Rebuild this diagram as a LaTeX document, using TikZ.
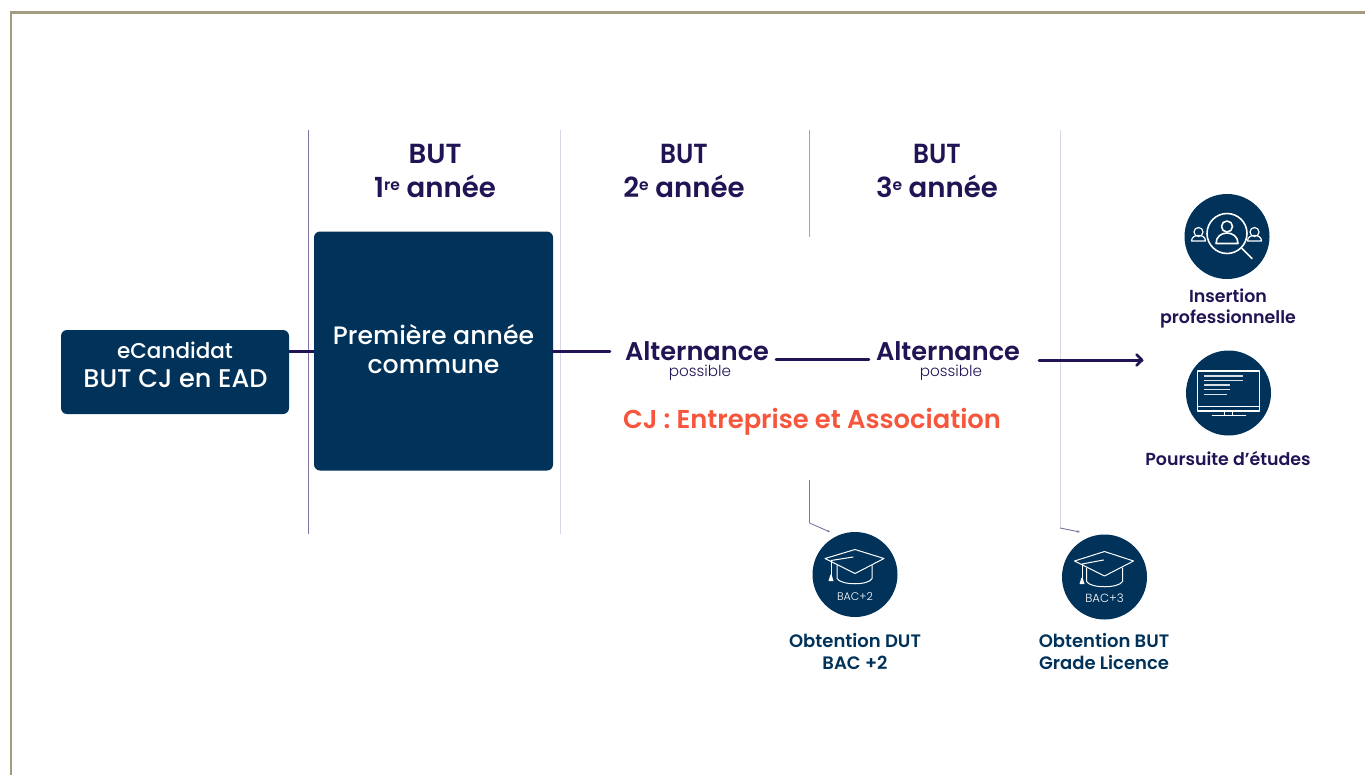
\documentclass[tikz,border=0pt]{standalone}
\usetikzlibrary{arrows.meta}
\usepackage{fontspec}
\setmainfont{Poppins}
\newfontfamily\pmed{Poppins Medium}
\newfontfamily\psemi{Poppins SemiBold}
\newfontfamily\plight{Poppins Light}
\definecolor{navy}{HTML}{00325A}
\definecolor{ink}{HTML}{221454}
\definecolor{coral}{HTML}{F7563C}
\definecolor{framec}{HTML}{A39C80}
\definecolor{rulea}{HTML}{7D76A0}
\definecolor{ruleb}{HTML}{D6D6E4}
\newcommand{\supr}[1]{\raisebox{7.5pt}{\fontsize{15.5}{15.5}\selectfont #1}}
\newcommand{\narrowbut}{\scalebox{0.9}[1]{BUT}}
\tikzset{x=1pt,y=-1pt,
 box/.style={fill=navy,rounded corners=6pt,inner sep=0pt},
 boxtxt/.style={text=white,align=center,inner sep=0pt},
 headtxt/.style={text=ink,align=center,font=\psemi\fontsize{27.6}{34}\selectfont,inner sep=0pt},
 altn/.style={text=ink,font=\psemi\fontsize{25.6}{28}\selectfont,inner sep=0pt},
 poss/.style={text=ink,font=\plight\fontsize{15.2}{16}\selectfont,inner sep=0pt},
 captxt/.style={text=ink,align=center,inner sep=0pt,font=\psemi\fontsize{17.4}{21.5}\selectfont},
 capnavy/.style={text=navy,align=center,inner sep=0pt,font=\psemi\fontsize{18}{22}\selectfont},
 disc/.style={circle,fill=navy,inner sep=0pt,minimum size=85pt},
 link/.style={draw=ink,line width=3pt},
 icon/.style={draw=white,line width=1pt,line cap=round,line join=round},
 iconb/.style={icon,line width=1.6pt},
 hair/.style={line width=1pt},
 pointer/.style={rulea,line width=0.9pt,-{Stealth[length=3pt,width=2.5pt]}}}
\begin{document}
\begin{tikzpicture}
\useasboundingbox (0,0) rectangle (1365,774);
\fill[white] (0,0) rectangle (1365,774);
\draw[framec,line width=2.5pt] (11,775) -- (11,12.5) -- (1365,12.5);
% column rules
\coordinate (r1a) at (308.5,130); \coordinate (r1b) at (308.5,534);
\coordinate (r2a) at (560,130); \coordinate (r2b) at (560,534);
\coordinate (r3a) at (809.5,130); \coordinate (r3b) at (809.5,237);
\coordinate (r4a) at (809.5,480); \coordinate (r4b) at (809.5,523);
\coordinate (r4c) at (830,532);
\coordinate (r5a) at (1060,130); \coordinate (r5b) at (1060,528);
\coordinate (r5c) at (1080,532);
\draw[rulea,hair] (r1a) -- (r1b);
\draw[ruleb,hair] (r2a) -- (r2b);
\draw[rulea!70,hair] (r3a) -- (r3b);
\draw[rulea,hair] (r4a) -- (r4b);
\draw[pointer] (r4b) -- (r4c);
\draw[ruleb,hair] (r5a) -- (r5b);
\draw[pointer] (r5b) -- (r5c);
% headings
\node[headtxt] (h1) at (435,171) {BUT\\1\supr{re} année};
\node[headtxt] (h2) at (684,171) {\narrowbut\\2\supr{e} année};
\node[headtxt] (h3) at (937,171) {\narrowbut\\3\supr{e} année};
% boxes
\node[box,minimum width=228pt,minimum height=84pt] (ecand) at (175,372) {};
\node[boxtxt,font=\pmed\fontsize{21.5}{26}\selectfont] (ecandt) at (175,350) {eCandidat};
\node[boxtxt,font=\pmed\fontsize{25.6}{30}\selectfont] (ecandu) at (175.5,379) {BUT CJ en EAD};
\node[box,minimum width=239pt,minimum height=239pt] (prem) at (433.5,351) {};
\node[boxtxt,font=\pmed\fontsize{25.2}{29}\selectfont] (premt) at (433.5,349.5) {Première année\\commune};
% alternance
\node[altn] (alt1) at (697,351) {Alternance};
\node[poss] (p1) at (700,373) {possible};
\node[altn] (alt2) at (948,351) {Alternance};
\node[poss] (p2) at (951,373) {possible};
\node[text=coral,inner sep=0pt,font=\psemi\fontsize{25.8}{30}\selectfont] (cj) at (812,422) {CJ : Entreprise et Association};
% connectors
\coordinate (arrowend) at (1142,360);
\draw[link] (ecand.east |- 0,351) -- (prem.west |- 0,351);
\draw[link,line cap=round] (prem.east |- 0,351) -- ([xshift=-15pt]alt1.west |- 0,351);
\draw[link,line cap=round] ([xshift=7pt]alt1.east |- 0,359.5) -- ([xshift=-7pt]alt2.west |- 0,359.5);
\draw[link,line cap=round] ([xshift=19pt]alt2.east |- 0,360) -- (arrowend);
\draw[ink,line width=2.6pt,line cap=round,line join=round] (1136.5,354.5) -- (arrowend) -- (1136.5,365.5);
% insertion
\node[disc] (ins) at (1227,236.5) {};
\begin{scope}[shift={(ins.center)}]
 \draw[iconb] (0,-3) circle (20);
 \draw[iconb] (15,12) -- (25,22);
 \draw[iconb] (0,-10) circle (5.5);
 \draw[iconb] (-11,7) .. controls (-11,-7) and (11,-7) .. (11,7) -- cycle;
 \foreach \s in {-28.5,27.5}{
  \draw[iconb,line width=1.2pt] (\s,-4.5) circle (4.5);
  \draw[iconb,line width=1.2pt] (\s-7,4.5) .. controls (\s-7,-3) and (\s+7,-3) .. (\s+7,4.5) -- cycle;
 }
\end{scope}
\node[captxt] (inst) at (1228,308.5) {Insertion\\professionnelle};
% poursuite
\node[disc] (pou) at (1228.5,393) {};
\begin{scope}[shift={(pou.center)}]
 \draw[iconb] (-31,-22) rectangle (31,18);
 \draw[icon,line width=1.3pt] (-31,13.5) -- (31,13.5);
 \draw[iconb] (-16,22.5) -- (17,22.5);
 \draw[icon] (-4,18) -- (-4,22.5) (4,18) -- (4,22.5);
 \draw[icon,line width=1.2pt,draw=white!85!navy] (-24,-17) -- (14,-17) (-24,-12.5) -- (14,-12.5) (-24,-8) -- (1,-8) (-24,-3.5) -- (1,-3.5) (-24,1.5) -- (-2,1.5);
\end{scope}
\node[captxt] (pout) at (1228,458) {Poursuite d’études};
% diplomas
\node[disc] (d2) at (855,574.5) {};
\begin{scope}[shift={(d2.center)}]
 \draw[icon] (0,-25) -- (29,-16) -- (0,-1) -- (-30,-16) -- cycle;
 \draw[icon] (-18,-9) -- (-18,4) .. controls (-14,11) and (14,11) .. (17,4) -- (17,-9);
 \draw[icon] (-24,-14) -- (-2,-17.5);
 \draw[icon] (-24,-14) -- (-24,1);
 \fill[white] (-26.5,6.5) -- (-24.5,0) -- (-23.5,0) -- (-21.5,6.5) -- cycle;
 \node[text=white,inner sep=0pt,font=\plight\fontsize{11}{12}\selectfont] (d2t) at (0,22) {BAC+2};
\end{scope}
\node[capnavy] (d2c) at (855,651) {Obtention DUT\\BAC +2};
\node[disc] (d3) at (1104.5,577) {};
\begin{scope}[shift={(d3.center)}]
 \draw[icon] (0,-25.5) -- (29,-16) -- (0,-1) -- (-30,-16) -- cycle;
 \draw[icon] (-18,-9) -- (-18,4.5) .. controls (-14,11.5) and (14,11.5) .. (18,4.5) -- (18,-9);
 \draw[icon] (-22.5,-13) -- (-1,-17);
 \draw[icon] (-22.5,-13) -- (-22.5,1);
 \fill[white] (-25,7) -- (-23,0.5) -- (-22,0.5) -- (-20,7) -- cycle;
 \node[text=white,inner sep=0pt,font=\plight\fontsize{11.8}{14}\selectfont] (d3t) at (0,21.5) {BAC+3};
\end{scope}
\node[capnavy] (d3c) at (1104,652) {Obtention BUT\\Grade Licence};
\end{tikzpicture}
\end{document}
